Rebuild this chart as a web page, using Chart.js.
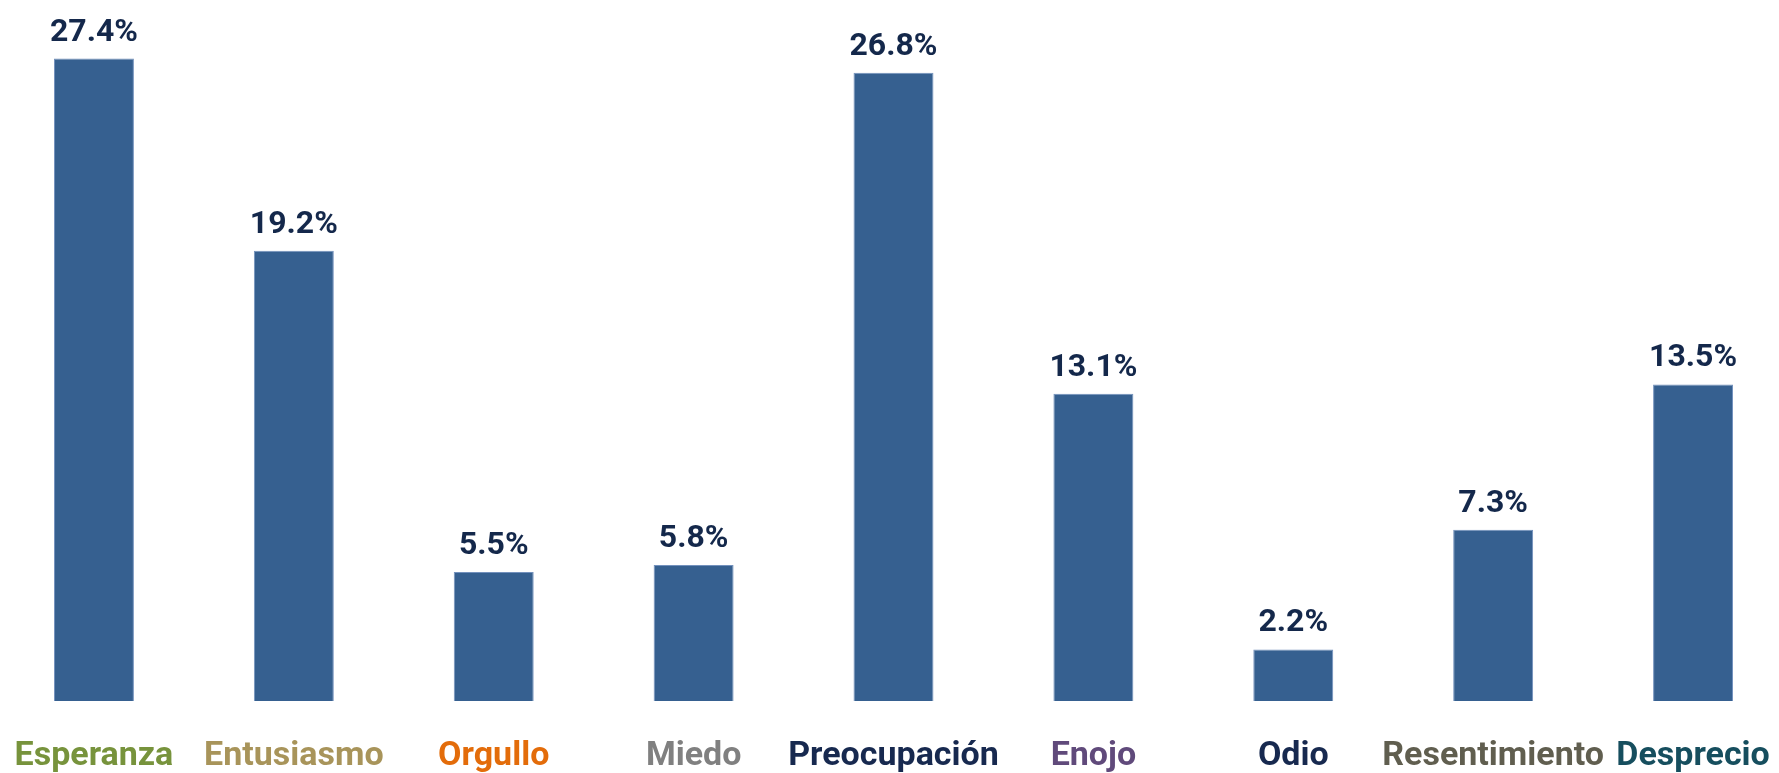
<!DOCTYPE html>
<html lang="es">
<head>
    <meta charset="UTF-8">
    <title>Emociones</title>
    <style>
        html, body {
            margin: 0;
            padding: 0;
            background: #fff;
            overflow: hidden;
        }
        #wrap {
            position: relative;
            width: 1799px;
            height: 773px;
            margin-left: -6px;
        }
    </style>
</head>
<body>
    <div id="wrap"><canvas id="myChart"></canvas></div>

    <script src="https://cdn.jsdelivr.net/npm/chart.js"></script>
    <script>
    var categories = ['Esperanza', 'Entusiasmo', 'Orgullo', 'Miedo', 'Preocupación', 'Enojo', 'Odio', 'Resentimiento', 'Desprecio'];
    var values = [27.4, 19.2, 5.5, 5.8, 26.8, 13.1, 2.2, 7.3, 13.5];
    var labelColors = ['#77933c', '#a8945a', '#e36c0a', '#808080', '#17294f', '#604a7b', '#17294f', '#605e4f', '#164e5e'];

    // draws "27.4%" style labels above each bar
    var valueLabels = {
        id: 'valueLabels',
        afterDatasetsDraw: function(chart) {
            var ctx = chart.ctx;
            var meta = chart.getDatasetMeta(0);
            ctx.save();
            ctx.font = 'bold 32px Roboto';
            ctx.fillStyle = '#14284b';
            ctx.textAlign = 'center';
            ctx.textBaseline = 'alphabetic';
            meta.data.forEach(function(bar, i) {
                ctx.fillText(values[i].toFixed(1) + '%', bar.x, bar.y - 18);
            });
            ctx.restore();
        }
    };

    var ctx = document.getElementById('myChart').getContext('2d');
    window.myChart = new Chart(ctx, {
        type: 'bar',
        data: {
            labels: categories,
            datasets: [{
                data: values,
                backgroundColor: '#366090',
                borderColor: '#7391bd',
                borderWidth: 1,
                categoryPercentage: 1,
                barPercentage: 0.4
            }]
        },
        options: {
            responsive: true,
            maintainAspectRatio: false,
            animation: false,
            layout: { padding: 0 },
            plugins: {
                legend: { display: false },
                tooltip: { enabled: false }
            },
            scales: {
                x: {
                    grid: { display: false, drawTicks: false },
                    border: { display: false },
                    ticks: {
                        padding: 35,
                        maxRotation: 0,
                        autoSkip: false,
                        font: { family: 'Roboto', weight: 'bold', size: 34 },
                        color: function(c) { return labelColors[c.index]; }
                    },
                    afterFit: function(scale) {
                        scale.height = 72;
                        scale.paddingLeft = 0;
                        scale.paddingRight = 0;
                    }
                },
                y: {
                    display: false,
                    min: 0,
                    max: 29.9
                }
            }
        },
        plugins: [valueLabels]
    });
    </script>
</body>
</html>
